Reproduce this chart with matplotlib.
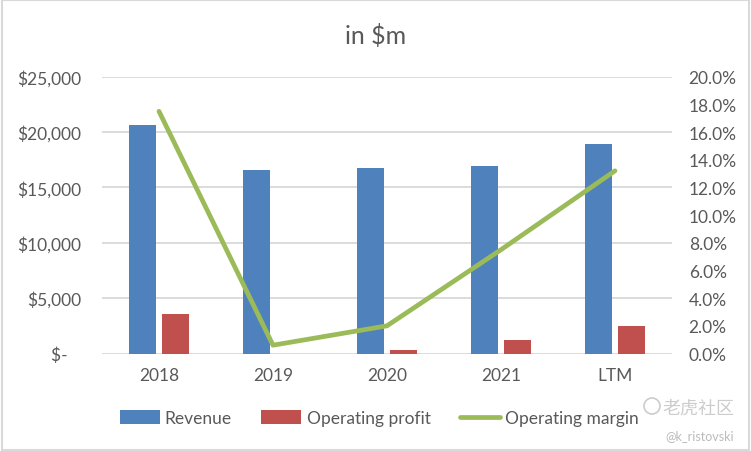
import numpy as np
import matplotlib.pyplot as plt
from matplotlib.ticker import FuncFormatter, MultipleLocator
from matplotlib.patches import Rectangle, Circle

plt.rcParams['font.family'] = ['Lato', 'DejaVu Sans']

# datos
categorias = ['2018', '2019', '2020', '2021', 'LTM']
revenue = [20650, 16590, 16770, 16950, 18930]
op_profit = [3580, 0, 330, 1230, 2500]
op_margin = [17.5, 0.6, 2.0, 7.5, 13.2]

azul = '#4F81BD'
rojo = '#C0504D'
verde = '#9BBB59'
gris_txt = '#595959'
gris_grid = '#D9D9D9'

fig = plt.figure(figsize=(7.51, 4.52), dpi=100)
ax = fig.add_axes([0.1358, 0.2157, 0.759, 0.6124])
ax2 = ax.twinx()

x = np.arange(len(categorias))
ancho = 0.23
ax.bar(x - 0.145, revenue, ancho, color=azul, label='Revenue', zorder=2)
ax.bar(x + 0.145, op_profit, ancho, color=rojo, label='Operating profit', zorder=2)
ax2.plot(x, op_margin, color=verde, lw=3.4, label='Operating margin',
         solid_capstyle='round', solid_joinstyle='round')

ax.set_xlim(-0.5, len(categorias) - 0.5)
ax.set_ylim(0, 25000)
ax2.set_ylim(0, 20)
ax.yaxis.set_major_locator(MultipleLocator(5000))
ax2.yaxis.set_major_locator(MultipleLocator(2))


def dolares(v, pos):
    if v == 0:
        return '$-   '
    return '${:,.0f}'.format(v)


ax.yaxis.set_major_formatter(FuncFormatter(dolares))
ax2.yaxis.set_major_formatter(FuncFormatter(lambda v, p: '{:.1f}%'.format(v)))

ax.set_xticks(x)
ax.set_xticklabels(categorias)
ax.grid(axis='y', color=gris_grid, lw=1.3, zorder=0)
ax.set_axisbelow(True)

for a in (ax, ax2):
    for s in a.spines.values():
        s.set_visible(False)
    a.tick_params(length=0, labelsize=12.5, colors=gris_txt)
ax.tick_params(axis='y', pad=15)
ax.tick_params(axis='x', pad=10)
ax2.tick_params(axis='y', pad=12)

fig.text(0.5, 0.92, 'in $m', ha='center', va='center', fontsize=18, color=gris_txt)

h1, l1 = ax.get_legend_handles_labels()
h2, l2 = ax2.get_legend_handles_labels()
fig.legend(h1 + h2, l1 + l2, loc='center', bbox_to_anchor=(0.505, 0.073), ncol=3,
           frameon=False, fontsize=12.5, labelcolor=gris_txt, handlelength=2.3,
           handleheight=0.9, handletextpad=0.3, columnspacing=1.7)

# marca de agua
fig.text(0.978, 0.097, '老虎社区', ha='right', va='center', fontsize=13, color='#CCCCCC',
         family=['Noto Sans CJK SC', 'DejaVu Sans'])
fig.text(0.978, 0.036, '@k_ristovski', ha='right', va='center', fontsize=9, color='#BBBBBB')
fig.patches.append(Circle((652, 452 - 407), 8, transform=None, fill=False,
                          edgecolor='#CCCCCC', lw=1.2))

fig.patches.append(Rectangle((0.002, 0.003), 0.996, 0.994, transform=fig.transFigure,
                             fill=False, edgecolor=gris_grid, lw=1.5))

plt.savefig('out.png', dpi=100)
